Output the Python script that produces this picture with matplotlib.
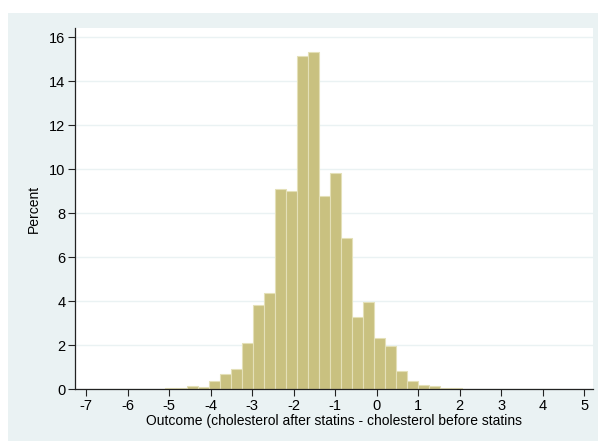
import numpy as np
import matplotlib.pyplot as plt
from matplotlib.patches import Rectangle

plt.rcParams['font.family'] = ['Liberation Sans', 'DejaVu Sans']

# Histogram bins: 43 equal-width bins starting at the sample minimum
bin_start = -6.94
bin_width = 0.2642
percent = [0.01, 0.0, 0.0, 0.01, 0.02, 0.03, 0.03, 0.05, 0.06, 0.16,
           0.11, 0.38, 0.71, 0.91, 2.09, 3.82, 4.39, 9.11, 9.00, 15.17,
           15.32, 8.77, 9.82, 6.86, 3.27, 3.97, 2.33, 1.98, 0.83, 0.36,
           0.20, 0.15, 0.06, 0.05, 0.02, 0.01, 0.02, 0.0, 0.0, 0.0,
           0.01, 0.01, 0.01]
edges = bin_start + bin_width * np.arange(len(percent) + 1)

xticks = list(range(-7, 6))
yticks = list(range(0, 17, 2))

bg = '#EAF2F3'
fig = plt.figure(figsize=(5.98, 4.41), dpi=100)
fig.patches.append(Rectangle((8 / 598, 0), 1, 1 - 13 / 441, transform=fig.transFigure,
                             facecolor=bg, edgecolor='none', zorder=0))

ax = fig.add_axes([75 / 598, 1 - 389.3 / 441, (593 - 75) / 598, (389.3 - 28) / 441])
ax.set_zorder(1)
ax.set_facecolor('white')
ax.bar(edges[:-1], percent, width=bin_width, align='edge',
       color='#C9C180', edgecolor='#E4E0B8', linewidth=0.8, zorder=2)

ax.set_xlim(-7.27, 5.21)
ax.set_ylim(0, 16.43)
ax.set_xticks(xticks)
ax.set_yticks(yticks)
ax.set_xticklabels([str(t) for t in xticks])
ax.set_yticklabels([str(t) for t in yticks])
ax.yaxis.grid(True, color=bg, linewidth=1.0, zorder=0)
ax.set_axisbelow(True)

for s in ['top', 'right']:
    ax.spines[s].set_visible(False)
for s in ['left', 'bottom']:
    ax.spines[s].set_color('#222222')
    ax.spines[s].set_linewidth(0.9)
ax.tick_params(direction='out', length=5, width=0.8, color='#222222',
               labelsize=10.5, pad=2, labelcolor='black')

ax.set_ylabel('Percent', fontsize=10, labelpad=6)
ax.set_xlabel('Outcome (cholesterol after statins - cholesterol before statins',
              fontsize=10, labelpad=1)

fig.savefig('out.png', dpi=100)
